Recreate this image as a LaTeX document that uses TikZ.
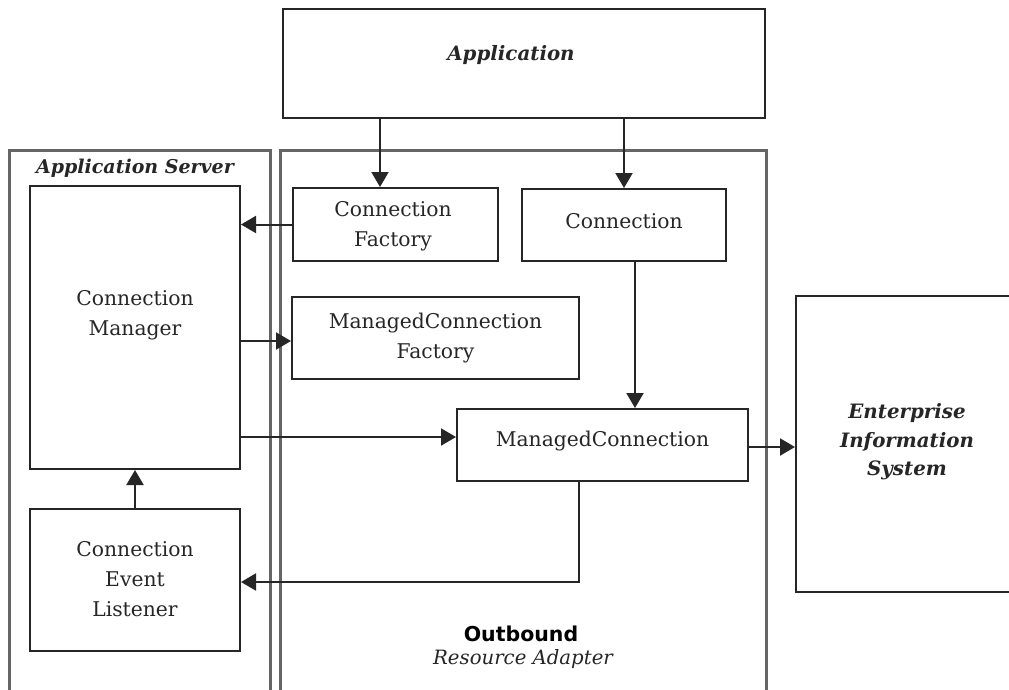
\documentclass[tikz,border=0pt]{standalone}
\usepackage{fontspec}
\setmainfont{DejaVu Serif}
\newfontfamily\labsans{DejaVu Sans}
\usetikzlibrary{arrows.meta,calc}
\begin{document}
\begin{tikzpicture}[x=1pt,y=-1pt,
  box/.style={draw=black!85, line width=2pt, fill=white, inner sep=0pt, align=center},
  cont/.style={draw=black!60, line width=3pt, inner sep=0pt},
  txt/.style={align=center, inner sep=0pt, font=\fontsize{20.3}{30}\selectfont, text=black!85},
  ttl/.style={align=center, inner sep=0pt, font=\fontsize{19.8}{28.5}\selectfont\bfseries\itshape, text=black!85},
  arr/.style={draw=black!85, line width=2pt, -{Triangle[length=15pt,width=17pt]}},
]
\useasboundingbox (0,0) rectangle (1009,689);
\clip (0,0) rectangle (1009,689);
\fill[white] (0,0) rectangle (1009,689);

% containers
\node[cont, minimum width=261pt, minimum height=580pt] (srv) at (139.5,440) {};
\node[cont, minimum width=486pt, minimum height=580pt] (ra) at (523,440) {};
\node[ttl, font=\fontsize{19}{24}\selectfont\bfseries\itshape] (srvlbl) at (135,168) {Application Server};
\node[inner sep=0pt, font=\fontsize{20.5}{24}\selectfont\labsans\bfseries, text=black] (ob) at (521,634) {Outbound};
\node[inner sep=0pt, font=\fontsize{19.7}{24}\selectfont\itshape, text=black!85] (ralbl) at (523,659) {Resource Adapter};

% boxes
\node[box, minimum width=482pt, minimum height=109pt] (app) at (524,63.5) {};
\node[ttl] (applbl) at (511,55) {Application};
\node[box, minimum width=205pt, minimum height=73pt] (cf) at (395.5,224.5) {};
\node[txt] (cflbl) at (393,226) {Connection\\Factory};
\node[box, minimum width=204pt, minimum height=72pt] (con) at (624,225) {};
\node[txt] (conlbl) at (624,221) {Connection};
\node[box, minimum width=287pt, minimum height=82pt] (mcf) at (435.5,338) {};
\node[txt] (mcflbl) at (435.5,338) {ManagedConnection\\Factory};
\node[box, minimum width=210pt, minimum height=283pt] (cm) at (135,327.5) {};
\node[txt] (cmlbl) at (135,315) {Connection\\Manager};
\node[box, minimum width=291pt, minimum height=72pt] (mc) at (602.5,445) {};
\node[txt] (mclbl) at (602.5,441) {ManagedConnection};
\node[box, minimum width=210pt, minimum height=142pt] (cel) at (135,580) {};
\node[txt] (cellbl) at (135,579) {Connection\\Event\\Listener};
\node[box, minimum width=240pt, minimum height=296pt] (eis) at (916,444) {};
\node[ttl] (eislbl) at (907,442) {Enterprise\\Information\\System};

% connector anchors
\coordinate (xa) at (380,0);
\coordinate (xc) at (635,0);
\coordinate (xm) at (579,0);
\coordinate (ymcf) at (0,341);
\coordinate (ymc) at (0,437);
\coordinate (ye) at (0,447);

% connectors
\draw[arr] (app.south -| xa) -- (cf.north -| xa);
\draw[arr] (app.south -| con.north) -- (con.north);
\draw[arr] (cf.west) -- (cf.west -| cm.east);
\draw[arr] (cm.east |- ymcf) -- (mcf.west |- ymcf);
\draw[arr] (cm.east |- ymc) -- (mc.west |- ymc);
\draw[arr] (con.south -| xc) -- (mc.north -| xc);
\draw[arr] (mc.east |- ye) -- (eis.west |- ye);
\draw[arr] (mc.south -| xm) |- ($(cel.east)+(0,2)$);
\draw[arr] (cel.north) -- (cm.south);
\end{tikzpicture}
\end{document}
